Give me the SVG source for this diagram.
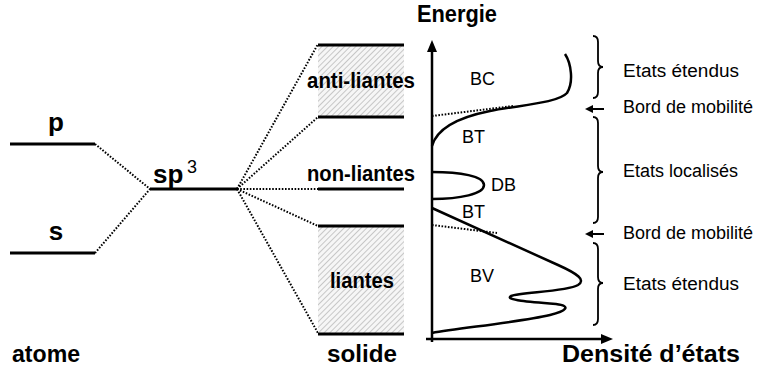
<svg xmlns="http://www.w3.org/2000/svg" width="766" height="369" viewBox="0 0 766 369">
<style>
.lvl{stroke:#000;stroke-width:3;fill:none}
.dot{stroke:#000;stroke-width:2;stroke-dasharray:1.6 1.6;fill:none}
.crv{stroke:#000;stroke-width:2.5;fill:none}
.brc{stroke:#000;stroke-width:1.8;fill:none}
.big{font-family:"Liberation Sans",Arial,sans-serif;font-weight:bold;font-size:26px;fill:#000}
.lab{font-family:"Liberation Sans",Arial,sans-serif;font-weight:bold;font-size:22px;fill:#000}
.bot{font-family:"Liberation Sans",Arial,sans-serif;font-weight:bold;font-size:23px;fill:#000}
.sm{font-family:"Liberation Sans",Arial,sans-serif;font-size:18px;fill:#000}
</style>
<defs>
<pattern id="hatch" width="4" height="4" patternUnits="userSpaceOnUse" patternTransform="rotate(45)">
<rect width="4" height="4" fill="#f6f6f6"/>
<line x1="0" y1="0" x2="0" y2="4" stroke="#a8a8a8" stroke-width="1.2"/>
</pattern>
</defs>

<g id="connectors">
<path class="dot" d="M95,144 L150,189"/>
<path class="dot" d="M95,253 L150,189"/>
<path class="dot" d="M237,189 L318,44"/>
<path class="dot" d="M237,189 L318,117"/>
<path class="dot" d="M237,189 L318,189"/>
<path class="dot" d="M237,189 L318,226"/>
<path class="dot" d="M237,189 L318,333"/>
</g>

<g id="atom-p">
<line class="lvl" x1="10" y1="144" x2="95" y2="144"/>
<text class="big" x="56" y="131" text-anchor="middle">p</text>
</g>
<g id="atom-s">
<line class="lvl" x1="10" y1="253" x2="95" y2="253"/>
<text class="big" x="56" y="240" text-anchor="middle">s</text>
</g>
<g id="sp3">
<line class="lvl" x1="150" y1="189" x2="237" y2="189"/>
<text class="big" x="153" y="183">sp</text>
<text class="sm" x="187" y="173" font-size="17">3</text>
</g>

<g id="anti-liantes">
<rect x="318" y="45" width="86" height="72" fill="url(#hatch)"/>
<line class="lvl" x1="318" y1="45" x2="404" y2="45"/>
<line class="lvl" x1="318" y1="117" x2="404" y2="117"/>
<text class="lab" x="307" y="88" textLength="108" lengthAdjust="spacingAndGlyphs">anti-liantes</text>
</g>
<g id="non-liantes">
<line class="lvl" x1="318" y1="189" x2="404" y2="189"/>
<text class="lab" x="307" y="181" textLength="108" lengthAdjust="spacingAndGlyphs">non-liantes</text>
</g>
<g id="liantes">
<rect x="318" y="226" width="86" height="108" fill="url(#hatch)"/>
<line class="lvl" x1="318" y1="226" x2="404" y2="226"/>
<line class="lvl" x1="318" y1="334" x2="404" y2="334"/>
<text class="lab" x="330" y="288" textLength="64" lengthAdjust="spacingAndGlyphs">liantes</text>
</g>

<g id="labels-bottom">
<text class="bot" x="12" y="362" textLength="68" lengthAdjust="spacingAndGlyphs">atome</text>
<text class="bot" x="327" y="362" textLength="70" lengthAdjust="spacingAndGlyphs">solide</text>
<text class="bot" x="562" y="362" textLength="178" lengthAdjust="spacingAndGlyphs">Densité d’états</text>
<text class="bot" x="417" y="22" textLength="80" lengthAdjust="spacingAndGlyphs">Energie</text>
</g>

<g id="dos">
<line x1="432" y1="342" x2="432" y2="50" stroke="#000" stroke-width="2.5"/>
<path d="M432,40 L427,52 L437,52 z" fill="#000"/>
<line x1="426" y1="339" x2="602" y2="339" stroke="#000" stroke-width="2.5"/>
<path d="M613,339 L601,334 L601,344 z" fill="#000"/>
<path class="crv" d="M565,54 C571,63 574,82 567,93 C558,103 520,105 490,111 C460,117 437,128 432,146"/>
<path class="dot" d="M432,116 L513,106"/>
<path class="crv" d="M432,172 C460,172 484,176 484,185 C484,194 460,199 432,199"/>
<path class="crv" d="M432,208 L558,265 C578,274 586,280 578,285 C566,292 520,292 511,296 C504,300 530,302 556,304 C572,306 566,311 550,315 C520,322 460,328 432,333"/>
<path class="dot" d="M432,225 L497,233"/>
<text class="sm" x="470" y="85">BC</text>
<text class="sm" x="462" y="143">BT</text>
<text class="sm" x="491" y="191">DB</text>
<text class="sm" x="462" y="218">BT</text>
<text class="sm" x="470" y="282">BV</text>
</g>

<g id="braces">
<path class="brc" d="M593,36 Q598,36 598,42 L598,61 Q598,67 603,67 Q598,67 598,73 L598,92 Q598,98 593,98"/>
<path class="brc" d="M593,117 Q598,117 598,123 L598,166 Q598,172 603,172 Q598,172 598,178 L598,217 Q598,223 593,223"/>
<path class="brc" d="M593,243 Q598,243 598,249 L598,277 Q598,283 603,283 Q598,283 598,289 L598,319 Q598,325 593,325"/>
<line x1="604" y1="109" x2="592" y2="109" stroke="#000" stroke-width="2"/>
<path d="M585,109 L593,105 L593,113 z" fill="#000"/>
<line x1="604" y1="234" x2="592" y2="234" stroke="#000" stroke-width="2"/>
<path d="M585,234 L593,230 L593,238 z" fill="#000"/>
<text class="sm" x="623" y="77" textLength="116" lengthAdjust="spacingAndGlyphs">Etats étendus</text>
<text class="sm" x="623" y="113">Bord de mobilité</text>
<text class="sm" x="623" y="177">Etats localisés</text>
<text class="sm" x="623" y="239">Bord de mobilité</text>
<text class="sm" x="623" y="290" textLength="116" lengthAdjust="spacingAndGlyphs">Etats étendus</text>
</g>
</svg>
